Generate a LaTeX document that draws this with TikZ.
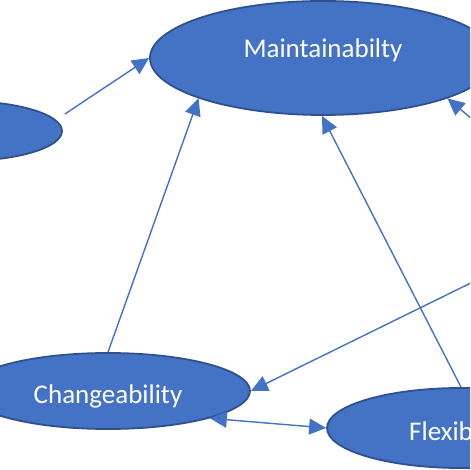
\documentclass[tikz,border=0pt]{standalone}
\usepackage{fontspec}
\setmainfont{Carlito}
\usetikzlibrary{shapes.geometric,arrows.meta}
\definecolor{ellfill}{HTML}{4472C4}
\definecolor{ellline}{HTML}{2F528F}
\definecolor{arrcol}{HTML}{4472C4}
\tikzset{
  ell/.style={ellipse, draw=ellline, fill=ellfill, line width=1.8pt, inner sep=0pt},
  lab/.style={text=white, font=\fontsize{27}{32}\selectfont},
  tip/.tip={Triangle[length=17pt,width=16pt]},
  arr/.style={draw=arrcol, line width=1.4pt, -tip},
}
\begin{document}
\begin{tikzpicture}[x=1pt,y=1pt]
\useasboundingbox (0,0) rectangle (470,470);
\clip (0,0) rectangle (470,470);
\fill[white] (0,0) rectangle (470,470);
\node[ell, minimum width=346pt, minimum height=114pt,
      label={[lab,yshift=8pt]center:Maintainabilty}] (m) at (323,412) {};
\node[ell, minimum width=200pt, minimum height=60pt] (l) at (-38,339) {};
\node[ell, minimum width=284pt, minimum height=76pt,
      label={[lab,yshift=-5pt]center:Changeability}] (c) at (108,79) {};
\node[ell, minimum width=268pt, minimum height=80pt,
      label={[lab,yshift=-5pt]center:Flexibility}] (f) at (461,42) {};
\coordinate (r) at (595,248);
\draw[arr] ([shift={(2pt,17pt)}]l.east) -- (m.west);
\draw[arr] (c.north) -- (m.198.3);
\draw[arr] (f.north) -- (m.269);
\draw[arr] (r) -- (m.342.3);
\draw[arr] (r) -- (c.east);
\draw[arr, tip-tip] (c.345.4) -- (f.west);
\end{tikzpicture}
\end{document}
